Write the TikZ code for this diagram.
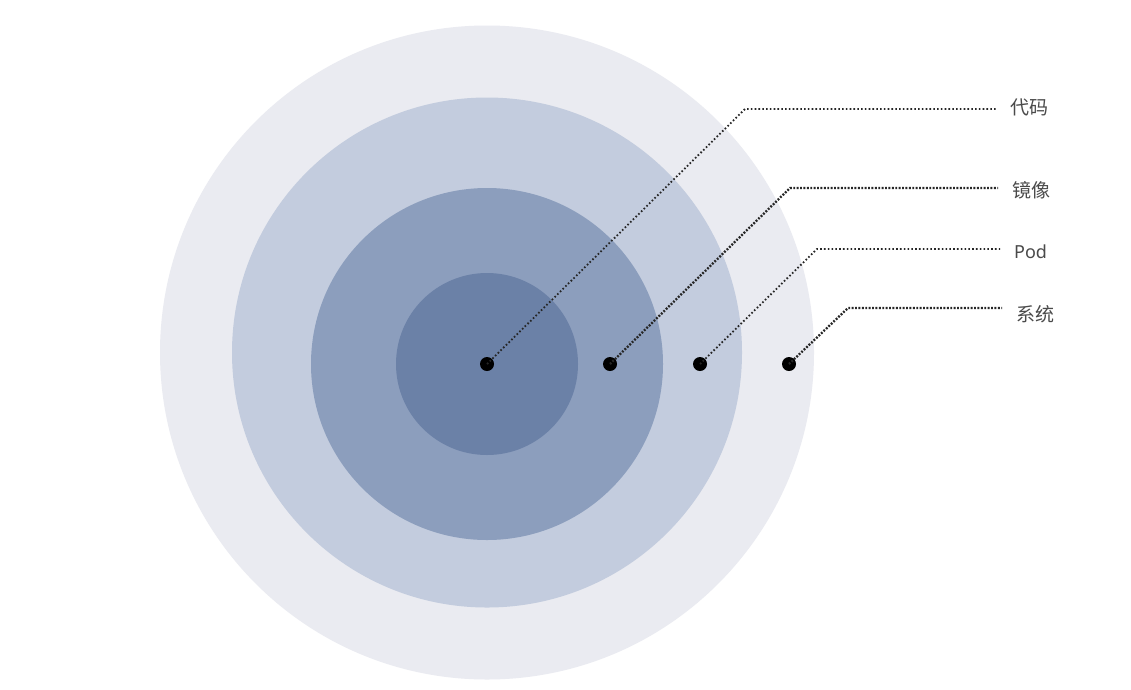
\documentclass[tikz,border=0pt]{standalone}
\usepackage{fontspec}
\setmainfont{Noto Sans}
\newfontfamily\cjk{Noto Sans CJK SC}
\usepackage{xcolor}
\definecolor{ringa}{HTML}{EAEBF1}
\definecolor{ringb}{HTML}{C3CCDE}
\definecolor{ringc}{HTML}{8C9EBD}
\definecolor{ringd}{HTML}{6B81A7}
\definecolor{leadc}{HTML}{262626}
\definecolor{textc}{HTML}{4A4A4A}
\tikzset{
  dot/.style={circle, fill=black, inner sep=0pt, minimum size=14pt},
  lead/.style={leadc, line width=1.8pt, dash pattern=on 1.6pt off 2.2pt},
  leadbold/.style={leadc, line width=2.3pt, dash pattern=on 1.9pt off 1.5pt},
  tag/.style={anchor=west, inner xsep=14pt, inner ysep=2pt, text=textc, font=\fontsize{19}{22}\selectfont\cjk}
}

\begin{document}
\begin{tikzpicture}[x=1pt, y=-1pt]
  \useasboundingbox[fill=white] (0,0) rectangle (1131,689);
  \fill[ringa] (487,352.5) circle (327);
  \fill[ringb] (487,352.5) circle (255);
  \fill[ringc] (487,364) circle (176);
  \fill[ringd] (487,364) circle (91);

  \node[dot] (dcode) at (487,364) {};
  \node[dot] (dimage) at (610,364) {};
  \node[dot] (dpod) at (700,364) {};
  \node[dot] (dsys) at (789,364) {};

  \coordinate (kcode) at (745,109);
  \coordinate (kimage) at (790,188);
  \coordinate (kpod) at (817,249);
  \coordinate (ksys) at (848,308);

  \node[tag] (tcode) at (996,107) {代码};
  \node[tag] (timage) at (998,190) {镜像};
  \node[tag, font=\fontsize{18}{22}\selectfont] (tpod) at (1000,252) {Pod};
  \node[tag] (tsys) at (1002,314) {系统};

  \draw[lead] (dcode.center) -- (kcode) -- (kcode -| tcode.west);
  \draw[leadbold] (dimage.center) -- (kimage) -- (kimage -| timage.west);
  \draw[lead] (dpod.center) -- (kpod) -- (kpod -| tpod.west);
  \draw[leadbold] (dsys.center) -- (ksys) -- (ksys -| tsys.west);
\end{tikzpicture}
\end{document}
